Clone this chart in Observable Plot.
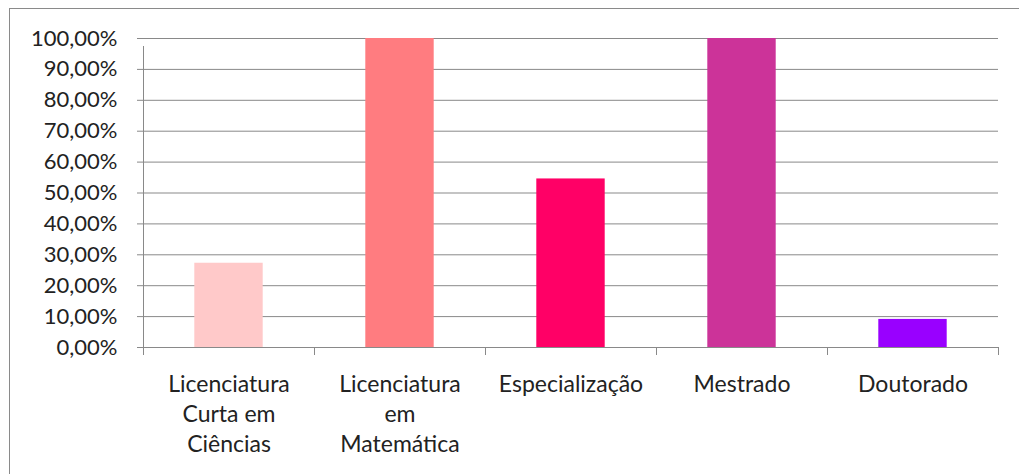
<!DOCTYPE html>
<html>
<head>
<meta charset="utf-8">
<script src="https://cdn.jsdelivr.net/npm/d3@7"></script>
<script src="https://cdn.jsdelivr.net/npm/@observablehq/plot@0.6"></script>
<style>
  html, body { margin: 0; padding: 0; background: #fff; overflow: hidden; }
  #wrap { position: relative; width: 1019px; height: 474px; }
  #border { position: absolute; left: 9px; top: 8px; width: 1200px; height: 700px;
            border: 1px solid #8a8a8a; box-sizing: border-box; pointer-events: none; }
  #chart svg { display: block; }
</style>
</head>
<body>
<div id="wrap">
  <div id="chart"></div>
  <div id="border"></div>
</div>
<script>
// Formação dos professores (percentual por nível)
const categories = [
  "Licenciatura\nCurta em\nCiências",
  "Licenciatura\nem\nMatemática",
  "Especialização",
  "Mestrado",
  "Doutorado"
];
const values = [0.2727, 1.0, 0.5455, 1.0, 0.0909];
const colors = ["#FFC9C9", "#FF7C80", "#FF0066", "#CC3399", "#9900FF"];
const yTicks = [0, 0.1, 0.2, 0.3, 0.4, 0.5, 0.6, 0.7, 0.8, 0.9, 1.0];

const data = categories.map((c, i) => ({ i, cat: c, value: values[i], color: colors[i] }));
const boundaries = d3.range(0, categories.length + 1);

const gridColor = "#898989";
const textColor = "#222";
const fontFamily = "Lato, 'Open Sans', sans-serif";

const fmt = d => (d * 100).toFixed(2).replace(".", ",") + "%";

const chart = Plot.plot({
  width: 1019,
  height: 474,
  marginLeft: 143,
  marginRight: 21,
  marginTop: 38,
  marginBottom: 127,
  style: { fontFamily, color: textColor, background: "transparent" },
  x: { type: "linear", domain: [0, categories.length], axis: null },
  y: { type: "linear", domain: [0, 1], axis: null },
  marks: [
    Plot.gridY(yTicks, { stroke: gridColor, strokeOpacity: 1, strokeWidth: 1 }),
    Plot.rectY(data, {
      x1: d => d.i + 0.3,
      x2: d => d.i + 0.7,
      y1: 0,
      y2: "value",
      fill: "color"
    }),
    Plot.axisY(yTicks, {
      label: null,
      tickSize: 6,
      tickPadding: 20,
      stroke: gridColor,
      strokeOpacity: 1,
      tickFormat: fmt,
      fontSize: 22,
      fill: textColor
    }),
    Plot.ruleY([0], { stroke: gridColor }),
    Plot.ruleX([0], { x: d => d, y1: 0, y2: 1, insetBottom: -8, stroke: gridColor }),
    Plot.ruleX(boundaries, { x: d => d, y1: 0, y2: 0, insetBottom: -8, stroke: gridColor }),
    Plot.text(data, {
      x: d => d.i + 0.5,
      y: 0,
      text: "cat",
      lineAnchor: "top",
      dy: 23,
      fontSize: 23,
      lineHeight: 1.3,
      fill: textColor
    })
  ]
});

document.getElementById("chart").append(chart);
</script>
</body>
</html>
